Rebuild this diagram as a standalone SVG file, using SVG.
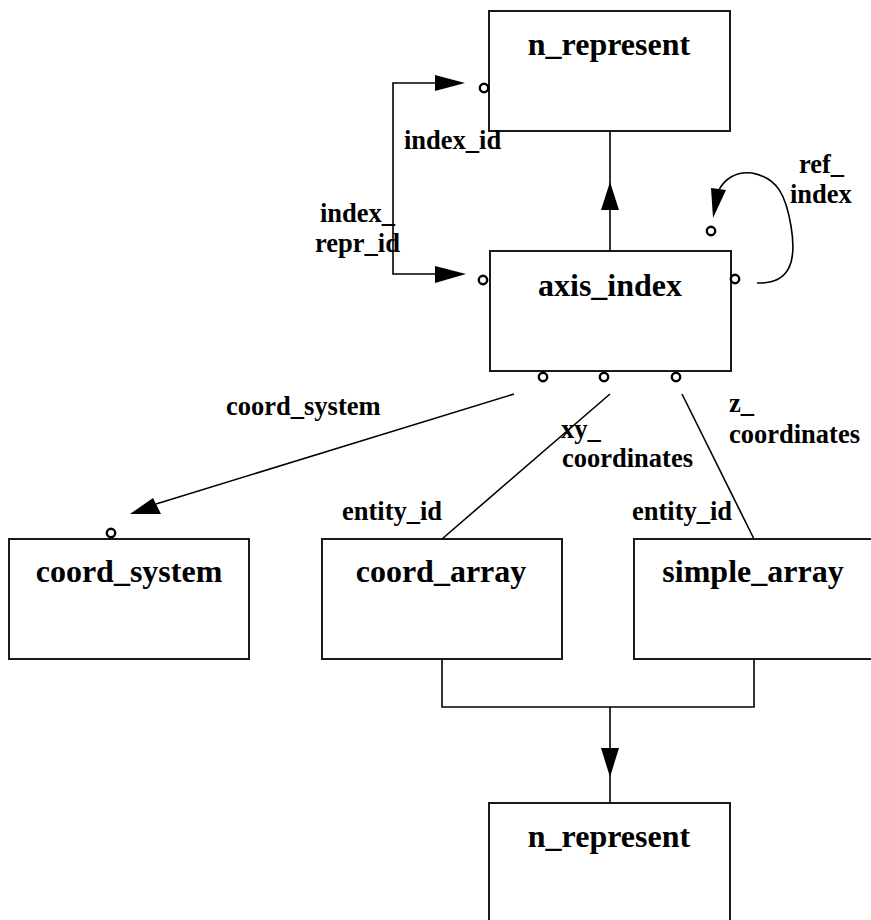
<svg xmlns="http://www.w3.org/2000/svg" width="871" height="920" viewBox="0 0 871 920">
  <style>
    .box { fill: #ffffff; stroke: #1a1a1a; stroke-width: 2; }
    .line { fill: none; stroke: #000000; stroke-width: 1.6; }
    .head { fill: #000000; stroke: none; }
    .port { fill: #ffffff; stroke: #000000; stroke-width: 2.4; }
    .title { font-family: "Liberation Serif", "Times New Roman", serif; font-weight: bold; font-size: 32px; text-anchor: middle; fill: #000; }
    .label { font-family: "Liberation Serif", "Times New Roman", serif; font-weight: bold; font-size: 26.5px; fill: #000; }
  </style>
  <rect width="871" height="920" fill="#ffffff"/>

  <!-- entity boxes -->
  <g id="n_represent_top">
    <rect class="box" x="489" y="11" width="241" height="120"/>
    <text class="title" x="609" y="55">n_represent</text>
    <circle class="port" cx="484" cy="88" r="4.2"/>
  </g>

  <g id="axis_index">
    <rect class="box" x="490" y="251" width="241" height="120"/>
    <text class="title" x="610" y="296">axis_index</text>
    <circle class="port" cx="483" cy="280" r="4.2"/>
    <circle class="port" cx="735" cy="279" r="4.2"/>
    <circle class="port" cx="711" cy="231" r="4.2"/>
    <circle class="port" cx="543" cy="377" r="4.2"/>
    <circle class="port" cx="604" cy="377" r="4.2"/>
    <circle class="port" cx="676" cy="377" r="4.2"/>
  </g>

  <g id="coord_system">
    <rect class="box" x="9" y="539" width="240" height="120"/>
    <text class="title" x="129" y="582">coord_system</text>
    <circle class="port" cx="111" cy="533" r="4.2"/>
  </g>

  <g id="coord_array">
    <rect class="box" x="322" y="539" width="240" height="120"/>
    <text class="title" x="441" y="582">coord_array</text>
  </g>

  <g id="simple_array">
    <rect class="box" x="634" y="539" width="240" height="120"/>
    <text class="title" x="753" y="582">simple_array</text>
  </g>

  <g id="n_represent_bottom">
    <rect class="box" x="489" y="803" width="241" height="130"/>
    <text class="title" x="609" y="847">n_represent</text>
  </g>

  <!-- relationships -->
  <g id="connectors">
    <!-- index_id / index_repr_id bracket -->
    <polyline class="line" points="436,83 393,83 393,274 436,274"/>
    <polygon class="head" points="465,83 435,75 435,91"/>
    <polygon class="head" points="466,274 435,266 435,283"/>

    <!-- axis_index up to n_represent -->
    <line class="line" x1="610" y1="131" x2="610" y2="251"/>
    <polygon class="head" points="610,182 601,210 619,210"/>

    <!-- ref_index self loop -->
    <path class="line" d="M757,283 C790,284 797,262 791,226 C786,196 778,178 752,173 C735,171 724,180 719,190"/>
    <polygon class="head" points="713,218 711,188 726,190"/>

    <!-- coord_system -->
    <line class="line" x1="514" y1="394" x2="156" y2="504"/>
    <polygon class="head" points="130,514 153,498 161,514"/>

    <!-- xy_coordinates and z_coordinates -->
    <line class="line" x1="610" y1="394" x2="442" y2="539"/>
    <line class="line" x1="682" y1="394" x2="754" y2="539"/>

    <!-- arrays join down to n_represent -->
    <polyline class="line" points="442,659 442,707 754,707 754,659"/>
    <line class="line" x1="610" y1="707" x2="610" y2="803"/>
    <polygon class="head" points="610,777 601,748 619,748"/>
  </g>

  <!-- relationship labels -->
  <g id="labels">
    <text class="label" x="404" y="149">index_id</text>
    <text class="label" x="320" y="222">index_</text>
    <text class="label" x="315" y="252">repr_id</text>
    <text class="label" x="799" y="173">ref_</text>
    <text class="label" x="790" y="203">index</text>
    <text class="label" x="226" y="415">coord_system</text>
    <text class="label" x="561" y="438">xy_</text>
    <text class="label" x="562" y="467">coordinates</text>
    <text class="label" x="729" y="412">z_</text>
    <text class="label" x="729" y="443">coordinates</text>
    <text class="label" x="342" y="520">entity_id</text>
    <text class="label" x="632" y="520">entity_id</text>
  </g>
</svg>
